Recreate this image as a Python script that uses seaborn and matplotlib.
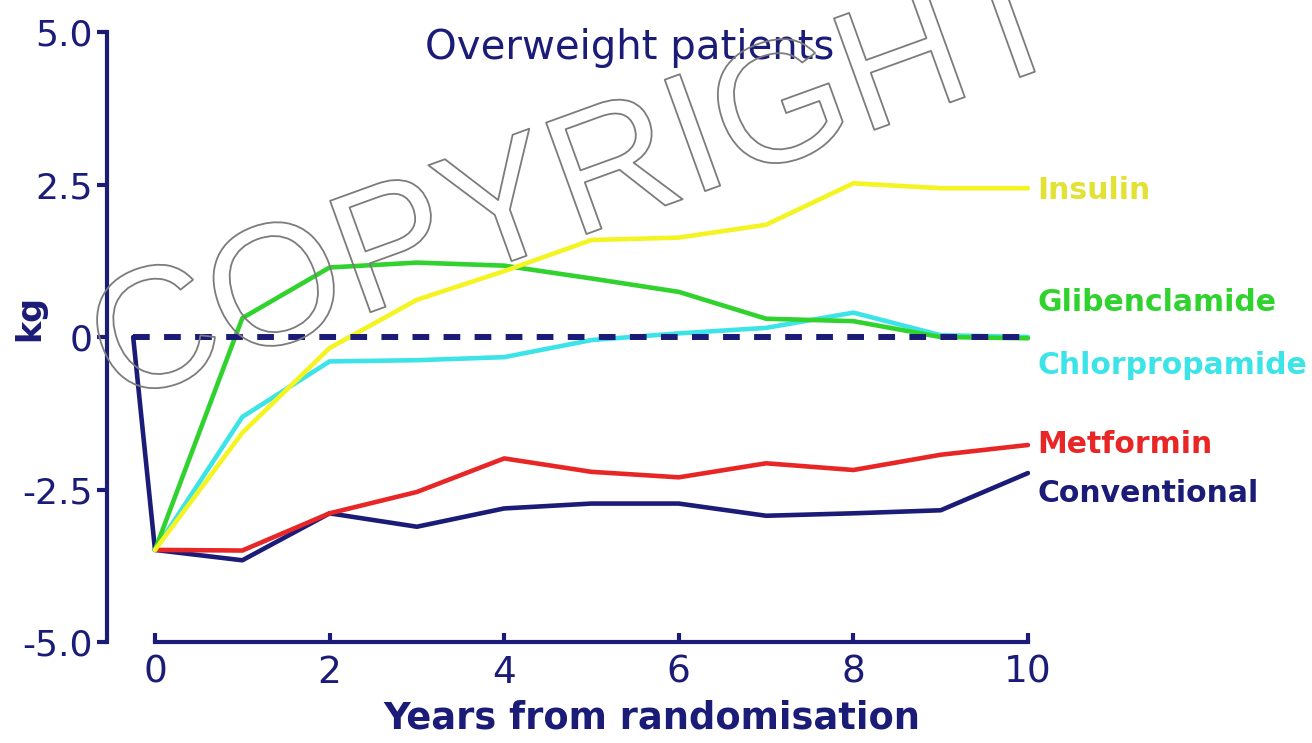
import numpy as np
import pandas as pd
import matplotlib
matplotlib.use("Agg")
import matplotlib.pyplot as plt
import matplotlib.patheffects as pe
import seaborn as sns

# --- Data (kg change from baseline) ---
years = [0, 1, 2, 3, 4, 5, 6, 7, 8, 9, 10]
baseline_year = -0.25  # the conventional line starts at zero just before year 0

conventional = [-3.49, -3.66, -2.89, -3.11, -2.81, -2.73, -2.73, -2.93, -2.89, -2.84, -2.23]
metformin = [-3.49, -3.50, -2.89, -2.54, -1.99, -2.21, -2.30, -2.07, -2.18, -1.93, -1.77]
chlorpropamide = [-3.49, -1.31, -0.40, -0.38, -0.33, -0.05, 0.06, 0.15, 0.40, 0.03, 0.00]
glibenclamide = [-3.49, 0.31, 1.14, 1.22, 1.17, 0.96, 0.74, 0.30, 0.26, 0.00, -0.02]
insulin = [-3.49, -1.57, -0.18, 0.61, 1.08, 1.59, 1.63, 1.84, 2.52, 2.44, 2.44]

groups = ["Conventional", "Metformin", "Chlorpropamide", "Glibenclamide", "Insulin"]
series = [conventional, metformin, chlorpropamide, glibenclamide, insulin]

ytick_vals = [-5.0, -2.5, 0.0, 2.5, 5.0]
ytick_labels = ["-5.0", "-2.5", "0", "2.5", "5.0"]
xtick_vals = [0, 2, 4, 6, 8, 10]

# label placement at the right end of the lines
label_y = {"Insulin": 2.41, "Glibenclamide": 0.57, "Chlorpropamide": -0.46,
           "Metformin": -1.77, "Conventional": -2.56}

navy = "#1b1b78"
palette = {"Conventional": navy, "Metformin": "#e82626", "Chlorpropamide": "#3ce4e8",
           "Glibenclamide": "#30d22e", "Insulin": "#f4f422"}
text_colors = dict(palette, Insulin="#e2e234")

# --- Long-form table ---
rows = []
for name, vals in zip(groups, series):
    xs = list(years)
    ys = list(vals)
    if name == "Conventional":
        xs = [baseline_year] + xs
        ys = [0.0] + ys
    for x, y in zip(xs, ys):
        rows.append({"year": x, "kg": y, "group": name})
df = pd.DataFrame(rows)

# --- Plot ---
sns.set_theme(style="white")
plt.rcParams["font.family"] = ["DejaVu Sans"]

fig = plt.figure(figsize=(13.12, 7.43), dpi=100)
ax = fig.add_axes([0.08155, 0.1359, 0.7033, 0.821])

sns.lineplot(data=df, x="year", y="kg", hue="group", hue_order=groups,
             palette=palette, linewidth=3.3, legend=False, ax=ax, zorder=3)

# zero reference line
ax.plot([baseline_year, years[-1]], [0, 0], color=navy, linewidth=4.3,
        dashes=(2.8, 2.4), zorder=5)

ax.set_xlim(-0.55, 10.02)
ax.set_ylim(-5, 5)

for side in ["top", "right"]:
    ax.spines[side].set_visible(False)
for side in ["left", "bottom"]:
    ax.spines[side].set_color(navy)
    ax.spines[side].set_linewidth(3)
ax.spines["left"].set_bounds(-5, 5)
ax.spines["bottom"].set_bounds(0, 10)

ax.set_yticks(ytick_vals, ytick_labels)
ax.set_xticks(xtick_vals, [str(v) for v in xtick_vals])
ax.tick_params(axis="y", direction="out", length=7, width=3, color=navy,
               labelcolor=navy, labelsize=26, pad=3, left=True)
ax.tick_params(axis="x", direction="in", length=6.5, width=3, color=navy,
               labelcolor=navy, labelsize=27, pad=9, bottom=True)

ax.set_xlabel("Years from randomisation", fontsize=26.5, fontweight="bold", color=navy)
ax.xaxis.set_label_coords(0.591, -0.125)
ax.xaxis.label.set_va("center")
ax.set_ylabel("kg", fontsize=24, fontweight="bold", color=navy)
ax.yaxis.set_label_coords(-0.0836, 0.531)
ax.yaxis.label.set_va("center")

for name in groups:
    ax.text(10.11, label_y[name], name, color=text_colors[name], fontsize=21.5,
            fontweight="bold", va="center", ha="left", clip_on=False)

fig.text(0.48, 0.935, "Overweight patients", color=navy, fontsize=29,
         ha="center", va="center")

# watermark
fig.text(0.454, 0.6895, "COPYRIGHT", family="Liberation Sans", fontsize=124,
         rotation=19.9, rotation_mode="anchor", ha="center", va="baseline",
         color="none", zorder=10,
         path_effects=[pe.Stroke(linewidth=1.3, foreground="#7c7c7c")])

fig.savefig("out.png", dpi=100)
